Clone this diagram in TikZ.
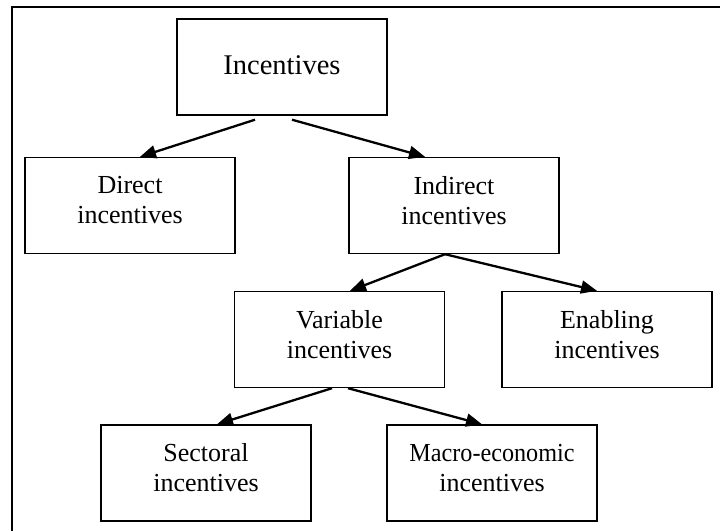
\documentclass[tikz,border=0pt]{standalone}
\usepackage{fontspec}
\setmainfont{Liberation Serif}
\usetikzlibrary{arrows.meta}
\begin{document}
\begin{tikzpicture}[x=1pt,y=-1pt,
  box/.style={draw,line width=1.4pt,minimum width=210pt,minimum height=96pt,inner sep=0pt},
  lbl/.style={align=center,font=\fontsize{26}{30}\selectfont,inner sep=0pt,yshift=5pt},
  conn/.style={line width=2.3pt,-{Triangle[length=16pt,width=13pt]}}]
\useasboundingbox (0,0) rectangle (720,531);
\draw[line width=2pt] (12,531) coordinate (fbl) -- (12,7) coordinate (ftl) -- (720,7) coordinate (ftr);
\node[box] (inc) at (282,67) {};
\node[box] (dir) at (130,205.5) {};
\node[box] (ind) at (454,205.5) {};
\node[box] (var) at (339.5,339.5) {};
\node[box] (ena) at (607,339.5) {};
\node[box] (sec) at (206,473) {};
\node[box] (mac) at (492,473) {};
\node[lbl,font=\fontsize{28.5}{32}\selectfont,yshift=-3pt] (tinc) at (inc.center) {Incentives};
\node[lbl] (tdir) at (dir.center) {Direct\\incentives};
\node[lbl] (tind) at (ind.center) {Indirect\\incentives};
\node[lbl] (tvar) at (var.center) {Variable\\incentives};
\node[lbl] (tena) at (ena.center) {Enabling\\incentives};
\node[lbl] (tsec) at (sec.center) {Sectoral\\incentives};
\node[lbl] (tmac) at (mac.center) {\scalebox{0.93}[1]{Macro-economic}\\incentives};
\draw[conn] ([xshift=-27pt,yshift=-4pt]inc.south) -- ([xshift=10pt]dir.north);
\draw[conn] ([xshift=10pt,yshift=-4pt]inc.south) -- ([xshift=-29pt]ind.north);
\draw[conn] ([xshift=-9pt]ind.south) -- ([xshift=10.5pt]var.north);
\draw[conn] ([xshift=-9pt]ind.south) -- ([xshift=-10pt]ena.north);
\draw[conn] ([xshift=-7.5pt]var.south) -- ([xshift=11pt]sec.north);
\draw[conn] ([xshift=8.5pt]var.south) -- ([xshift=-10pt]mac.north);
\end{tikzpicture}
\end{document}
